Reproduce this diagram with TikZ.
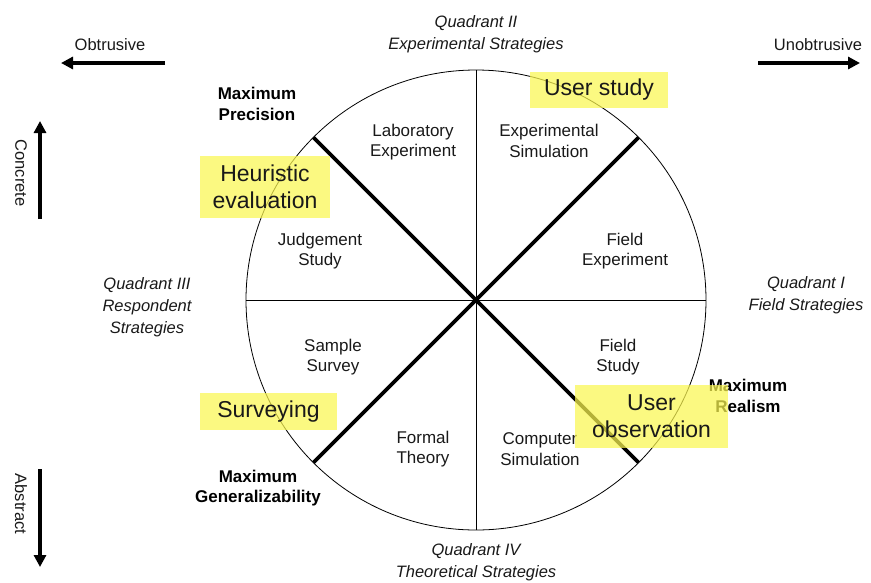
\documentclass[tikz,border=0pt]{standalone}
\usepackage{fontspec}
\setmainfont{Liberation Sans}
\usetikzlibrary{arrows.meta}
\definecolor{hlyellow}{RGB}{250,246,80}
\definecolor{txt}{RGB}{25,25,25}
\tikzset{
  lbl/.style={font=\fontsize{17}{20.5}\selectfont, align=center, text=txt, inner sep=0pt},
  quadlbl/.style={font=\fontsize{16.5}{22}\selectfont\itshape, align=center, text=txt, inner sep=0pt},
  maxlbl/.style={font=\fontsize{17}{20.5}\selectfont\bfseries, align=center, text=black, inner sep=0pt},
  hl/.style={fill=hlyellow, fill opacity=0.72, text opacity=1, text=txt, align=center,
     font=\fontsize{23}{27}\selectfont, inner sep=0pt},
  thinline/.style={line width=0.9pt, black},
  thickline/.style={line width=3.6pt, black},
  dirarrow/.style={line width=4pt, black, -{Triangle[length=12pt,width=12pt]}},
  dirlbl/.style={font=\fontsize{16.5}{20}\selectfont, text=txt, inner sep=0pt}
}
\begin{document}
\begin{tikzpicture}[x=1pt,y=-1pt]
\useasboundingbox (0,0) rectangle (871,582);
% circle and axes
\coordinate (c) at (476,300);
\node[draw, circle, line width=0.8pt, minimum size=460pt, inner sep=0pt] (circ) at (c) {};
\coordinate (top) at (476,70);
\coordinate (bot) at (476,530);
\coordinate (lft) at (246,300);
\coordinate (rgt) at (706,300);
\draw[thinline] (top) -- (bot);
\draw[thinline] (lft) -- (rgt);
\coordinate (ul) at (313.4,137.4);
\coordinate (lr) at (638.6,462.6);
\coordinate (ur) at (638.6,137.4);
\coordinate (ll) at (313.4,462.6);
\draw[thickline] (ul) -- (lr);
\draw[thickline] (ur) -- (ll);

% quadrant labels
\node[quadlbl] (q2) at (476,34) {Quadrant II\\Experimental Strategies};
\node[quadlbl] (q4) at (476,562) {Quadrant IV\\Theoretical Strategies};
\node[quadlbl] (q1) at (806,295.5) {Quadrant I\\Field Strategies};
\node[quadlbl] (q3) at (147,307) {Quadrant III\\Respondent\\Strategies};

% sector labels
\node[lbl] (labexp) at (413,142) {Laboratory\\Experiment};
\node[lbl] (expsim) at (549,141) {Experimental\\Simulation};
\node[lbl] (judge) at (320,251) {Judgement\\Study};
\node[lbl] (fexp) at (625,251) {Field\\Experiment};
\node[lbl] (survey) at (333,357) {Sample\\Survey};
\node[lbl] (fstudy) at (618,357) {Field\\Study};
\node[lbl] (formal) at (423,449) {Formal\\Theory};
\node[lbl] (compsim) at (540,449) {Computer\\Simulation};

% maximum labels
\node[maxlbl] (maxprec) at (257,104) {Maximum\\Precision};
\node[maxlbl] (maxgen) at (258,488) {Maximum\\Generalizability};
\node[maxlbl] (maxreal) at (748,396) {Maximum\\Realism};

% direction arrows
\node[dirlbl] (obtr) at (110,45) {Obtrusive};
\coordinate (obs) at (165,63);
\coordinate (obe) at (61,63);
\draw[dirarrow] (obs) -- (obe);
\node[dirlbl] (unobtr) at (818,45) {Unobtrusive};
\coordinate (uns) at (758,63);
\coordinate (une) at (860,63);
\draw[dirarrow] (uns) -- (une);
\node[dirlbl, rotate=-90] (concr) at (21,173) {Concrete};
\coordinate (cos) at (40,219);
\coordinate (coe) at (40,121);
\draw[dirarrow] (cos) -- (coe);
\node[dirlbl, rotate=-90] (abstr) at (21,504) {Abstract};
\coordinate (abs) at (40,469);
\coordinate (abe) at (40,567);
\draw[dirarrow] (abs) -- (abe);

% highlights
\node[hl, minimum width=130pt, minimum height=62pt] (heur) at (265,187) {Heuristic\\evaluation};
\node[hl, minimum width=138pt, minimum height=36pt] (ustudy) at (599,90) {User study};
\node[hl, minimum width=137pt, minimum height=37pt] (surv) at (268.5,411.5) {Surveying};
\node[hl, minimum width=153pt, minimum height=63pt] (uobs) at (651.5,416.5) {User\\observation};
\end{tikzpicture}
\end{document}
